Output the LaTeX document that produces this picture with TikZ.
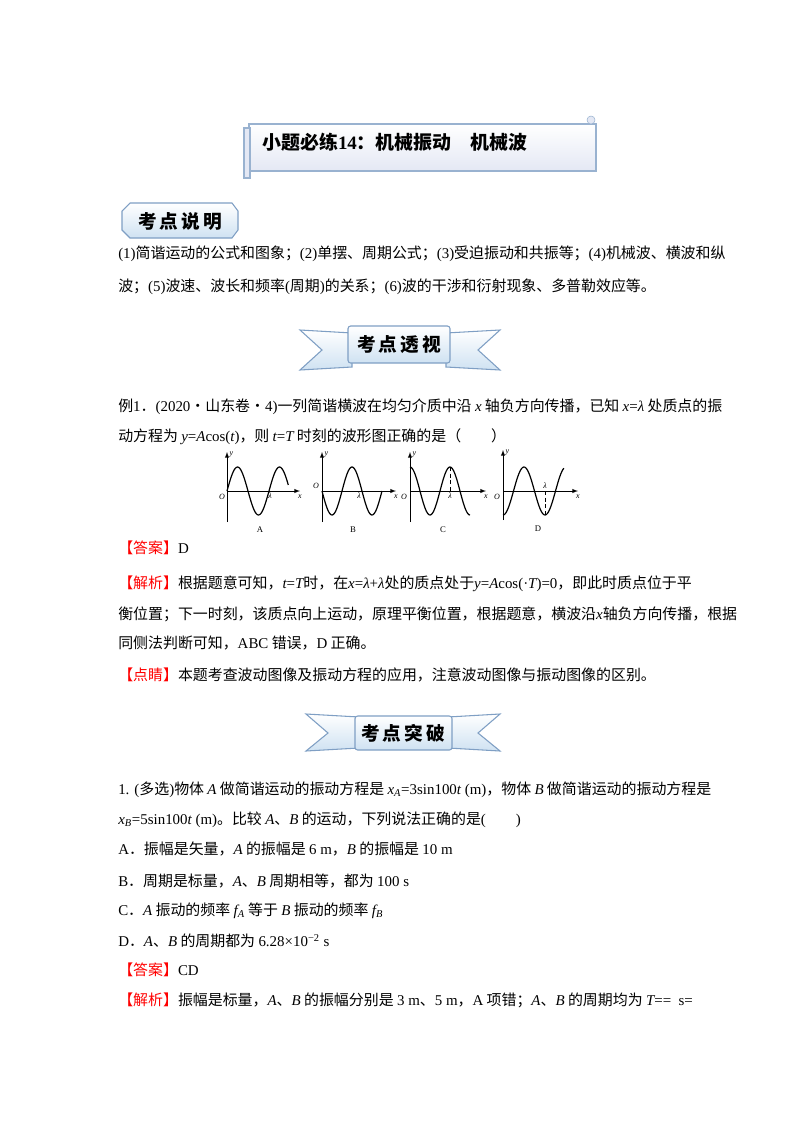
\documentclass[tikz,border=0pt]{standalone}
\usepackage{fontspec}
\setmainfont{Noto Sans CJK SC}
\newfontfamily\lat{Liberation Serif}
\newcommand\mi[1]{{\lat\itshape #1}}
\newcommand\mr[1]{{\lat #1}}
\newcommand\redtag[1]{{\color{red}【#1】}}
\definecolor{bnfill}{HTML}{CFE2F2}
\definecolor{bnline}{HTML}{7F9FC4}
\definecolor{ttfill}{HTML}{E4E8F4}
\usetikzlibrary{calc}
\begin{document}
\begin{tikzpicture}[x=0.75pt,y=-0.75pt,
  txt/.style={anchor=west,inner sep=0pt,font=\fontsize{11.2}{13}\selectfont},
  ban/.style={draw=bnline,line width=0.8pt,top color=white,bottom color=bnfill},
  bantxt/.style={font=\fontsize{14}{16}\selectfont\bfseries},
  wave/.style={line width=0.9pt},
  ax/.style={line width=0.5pt,-latex},
  lab/.style={font=\fontsize{6}{7}\selectfont\lat\itshape,inner sep=1pt}]
\useasboundingbox (0,0) rectangle (800,1132);
\fill[white] (0,0) rectangle (800,1132);

% title scroll
\draw[draw=bnline!80,line width=1pt,top color=white,bottom color=ttfill] (249,124) rectangle (596,171);
\draw[draw=bnline!80,line width=1pt,fill=ttfill] (244,128) rectangle (250,178);
\draw[draw=bnline!80,fill=ttfill] (591,120) circle (4);
\node[anchor=west,inner sep=0pt,font=\fontsize{14.2}{16}\selectfont\bfseries] (title) at (262,142) {小题必练\mr{\bfseries 14}：机械振动\quad 机械波};

% banner 1
\draw[ban] (130,203) -- (232,203) -- (238,211) -- (238,230) -- (232,238) -- (130,238) -- (122,230) -- (122,211) -- cycle;
\node[bantxt] (b1) at (180,221) {考\,点\,说\,明};

\node[txt] (l1) at (118,254) {\mr{(1)}简谐运动的公式和图象；\mr{(2)}单摆、周期公式；\mr{(3)}受迫振动和共振等；\mr{(4)}机械波、横波和纵};
\node[txt] (l2) at (118,287) {波；\mr{(5)}波速、波长和频率\mr{(}周期\mr{)}的关系；\mr{(6)}波的干涉和衍射现象、多普勒效应等。};

% banner 2
\draw[ban] (300,330) -- (352,333) -- (352,367) -- (300,370) -- (322,350) -- cycle;
\draw[ban] (500,330) -- (446,333) -- (446,367) -- (500,370) -- (478,350) -- cycle;
\draw[ban,rounded corners=2pt] (348,326) rectangle (450,363);
\node[bantxt] (b2) at (399,345) {考\,点\,透\,视};

\node[txt] (e1) at (118,407) {例\mr{1}．\mr{(2020}·山东卷·\mr{4)}一列简谐横波在均匀介质中沿 \mi{x} 轴负方向传播，已知 \mi{x}\mr{=}\mi{λ} 处质点的振};
\node[txt] (e2) at (118,437) {动方程为 \mi{y}\mr{=}\mi{A}\mr{cos(}\mi{t}\mr{)}，则 \mi{t}\mr{=}\mi{T} 时刻的波形图正确的是（\qquad ）};

% waves
% A
\draw[ax] (227,522) -- (227,452); \draw[ax] (227,491) -- (300,491);
\draw[wave,domain=0:1.46,samples=60] plot ({227+42*\x},{491-24*sin(360*\x)});
\node[lab,anchor=west] (ya) at (228,455) {y}; \node[lab] (xa) at (300,497) {x};
\node[lab] (oa) at (222,497) {O}; \node[lab] (la) at (270,496) {λ};
\node[font=\fontsize{6.5}{7}\selectfont\lat] (A) at (260,530) {A};
% B
\draw[ax] (322,522) -- (322,452); \draw[ax] (322,491) -- (396,491);
\draw[wave,domain=0:1.5,samples=60] plot ({322+40*\x},{491+24*sin(360*\x)});
\node[lab,anchor=west] (yb) at (323,455) {y}; \node[lab] (xb) at (396,497) {x};
\node[lab] (ob) at (316,486) {O}; \node[lab] (lb) at (359,496) {λ};
\node[font=\fontsize{6.5}{7}\selectfont\lat] (B) at (353,530) {B};
% C
\draw[ax] (410,522) -- (410,452); \draw[ax] (410,491) -- (486,491);
\draw[wave,domain=0:1.5,samples=60] plot ({410+40*\x},{491-24*cos(360*\x)});
\draw[densely dashed,line width=0.4pt] (450,467) -- (450,491);
\node[lab,anchor=west] (yc) at (411,455) {y}; \node[lab] (xc) at (486,497) {x};
\node[lab] (oc) at (404,497) {O}; \node[lab] (lc) at (450,496) {λ};
\node[font=\fontsize{6.5}{7}\selectfont\lat] (C) at (443,530) {C};
% D
\draw[ax] (503,520) -- (503,450); \draw[ax] (503,491) -- (578,491);
\draw[wave,domain=0:1.45,samples=60] plot ({503+42*\x},{491+24*cos(360*\x)});
\draw[densely dashed,line width=0.4pt] (545,491) -- (545,515);
\node[lab,anchor=west] (yd) at (504,453) {y}; \node[lab] (xd) at (578,497) {x};
\node[lab] (od) at (497,497) {O}; \node[lab] (ld) at (545,486) {λ};
\node[font=\fontsize{6.5}{7}\selectfont\lat] (D) at (538,529) {D};

\node[txt] (a1) at (118,548) {\redtag{答案}\mr{D}};
\node[txt] (s1) at (118,584) {\redtag{解析}根据题意可知，\mi{t}\mr{=}\mi{T}时，在\mi{x}\mr{=}\mi{λ}\mr{+}\mi{λ}处的质点处于\mi{y}\mr{=}\mi{A}\mr{cos(·}\mi{T}\mr{)=0}，即此时质点位于平};
\node[txt] (s2) at (118,614) {衡位置；下一时刻，该质点向上运动，原理平衡位置，根据题意，横波沿\mi{x}轴负方向传播，根据};
\node[txt] (s3) at (118,643) {同侧法判断可知，\mr{ABC} 错误，\mr{D} 正确。};
\node[txt] (d1) at (118,675) {\redtag{点睛}本题考查波动图像及振动方程的应用，注意波动图像与振动图像的区别。};

% banner 3
\draw[ban] (306,714) -- (359,717) -- (359,748) -- (306,751) -- (328,733) -- cycle;
\draw[ban] (500,714) -- (448,717) -- (448,748) -- (500,751) -- (478,733) -- cycle;
\draw[ban,rounded corners=2pt] (355,716) rectangle (452,750);
\node[bantxt] (b3) at (403,733) {考\,点\,突\,破};

\node[txt] (q1) at (118,790) {\mr{1. (}多选\mr{)}物体 \mi{A} 做简谐运动的振动方程是 \mi{x}\textsubscript{\mi{A}}\mr{=3sin100}\mi{t}\mr{ (m)}，物体 \mi{B} 做简谐运动的振动方程是};
\node[txt] (q2) at (118,820) {\mi{x}\textsubscript{\mi{B}}\mr{=5sin100}\mi{t}\mr{ (m)}。比较 \mi{A}、\mi{B} 的运动，下列说法正确的是\mr{(}\qquad\mr{)}};
\node[txt] (qa) at (118,849) {\mr{A}．振幅是矢量，\mi{A} 的振幅是 \mr{6 m}，\mi{B} 的振幅是 \mr{10 m}};
\node[txt] (qb) at (118,881) {\mr{B}．周期是标量，\mi{A}、\mi{B} 周期相等，都为 \mr{100 s}};
\node[txt] (qc) at (118,911) {\mr{C}．\mi{A} 振动的频率 \mi{f}\textsubscript{\mi{A}} 等于 \mi{B} 振动的频率 \mi{f}\textsubscript{\mi{B}}};
\node[txt] (qd) at (118,941) {\mr{D}．\mi{A}、\mi{B} 的周期都为 \mr{6.28×10}\textsuperscript{\mr{−2}}\mr{ s}};
\node[txt] (qans) at (118,970) {\redtag{答案}\mr{CD}};
\node[txt] (qs) at (118,1000) {\redtag{解析}振幅是标量，\mi{A}、\mi{B} 的振幅分别是 \mr{3 m}、\mr{5 m}，\mr{A} 项错；\mi{A}、\mi{B} 的周期均为 \mi{T}\mr{==\ \ s=}};
\end{tikzpicture}
\end{document}
